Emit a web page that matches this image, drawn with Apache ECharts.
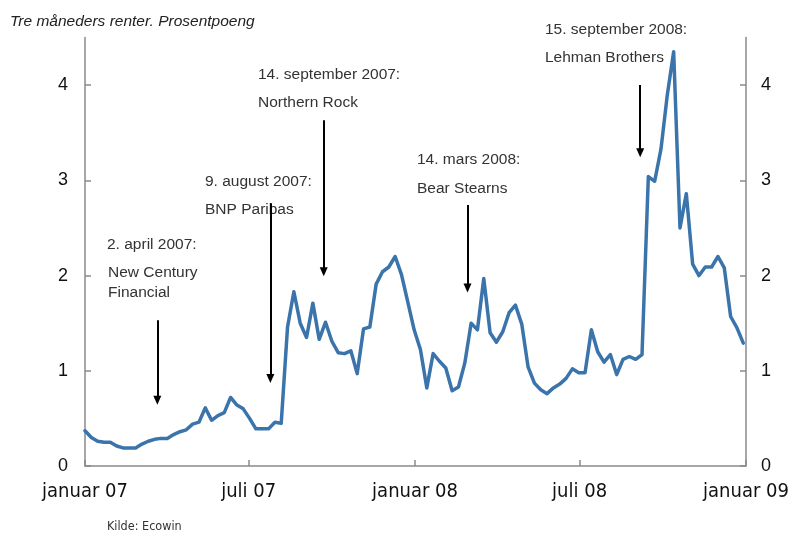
<!DOCTYPE html>
<html>
<head>
<meta charset="utf-8">
<title>Tre måneders renter</title>
<script src="https://cdn.jsdelivr.net/npm/echarts@6/dist/echarts.min.js"></script>
<style>
    html, body { margin: 0; padding: 0; background: #fff; }
    #main { width: 793px; height: 534px; }
</style>
</head>
<body>
<div id="main"></div>
<script>
// ukentlige observasjoner fra 1. januar 2007
const startYear = 2007
const weekCount = 105
const rates = [
    0.37, 0.30, 0.26, 0.25, 0.25, 0.21, 0.19, 0.19, 0.19, 0.23,
    0.26, 0.28, 0.29, 0.29, 0.33, 0.36, 0.38, 0.44, 0.46, 0.61,
    0.48, 0.53, 0.56, 0.72, 0.64, 0.60, 0.50, 0.39, 0.39, 0.39,
    0.46, 0.45, 1.46, 1.83, 1.50, 1.35, 1.71, 1.33, 1.51, 1.31,
    1.19, 1.18, 1.21, 0.97, 1.44, 1.46, 1.91, 2.04, 2.09, 2.20,
    2.01, 1.72, 1.43, 1.22, 0.82, 1.18, 1.10, 1.03, 0.79, 0.83,
    1.08, 1.50, 1.43, 1.97, 1.40, 1.30, 1.41, 1.61, 1.69, 1.49,
    1.04, 0.87, 0.80, 0.76, 0.82, 0.86, 0.92, 1.02, 0.98, 0.98,
    1.43, 1.20, 1.09, 1.17, 0.96, 1.12, 1.15, 1.12, 1.17, 3.04,
    2.99, 3.33, 3.90, 4.35, 2.50, 2.86, 2.12, 2.00, 2.09, 2.09,
    2.20, 2.08, 1.57, 1.45, 1.29
]
const weeks = []
for (let i = 0; i < weekCount; i++) {
    weeks.push(new Date(startYear, 0, 1 + 7 * i).getTime())
}

// aksemerker
const xTickDates = ['2007-01-01', '2007-07-01', '2008-01-01', '2008-07-01', '2009-01-01']
const monthNames = { 0: 'januar', 6: 'juli' }
const yTicks = [0, 1, 2, 3, 4]

// hendelser: pil (dato, fra, til)
const arrowDates = ['2007-03-22', '2007-07-25', '2007-09-22', '2008-02-28', '2008-09-06']
const arrowTop = [1.53, 2.76, 3.63, 2.74, 4.00]
const arrowBottom = [0.69, 0.92, 2.04, 1.87, 3.29]

const toTime = (s) => {
    const p = s.split('-').map(Number)
    return new Date(p[0], p[1] - 1, p[2]).getTime()
}

const narrowFont = "'Liberation Sans Narrow', 'DejaVu Sans Condensed', 'Liberation Sans', sans-serif"
const textStyle = { fontFamily: 'Liberation Sans', fontSize: 15.5, fill: '#333' }
const notes = [
    { text: '2. april 2007:', x: 107, y: 246 },
    { text: 'New Century', x: 108, y: 274 },
    { text: 'Financial', x: 108, y: 294 },
    { text: '9. august 2007:', x: 205, y: 183 },
    { text: 'BNP Paribas', x: 205, y: 211 },
    { text: '14. september 2007:', x: 258, y: 76 },
    { text: 'Northern Rock', x: 258, y: 104 },
    { text: '14. mars 2008:', x: 417, y: 161 },
    { text: 'Bear Stearns', x: 417, y: 190 },
    { text: '15. september 2008:', x: 545, y: 31 },
    { text: 'Lehman Brothers', x: 545, y: 59 }
]

const myChart = echarts.init(document.getElementById('main'))

const yAxisBase = {
    type: 'value',
    min: 0,
    max: 4.5,
    interval: 1,
    splitLine: { show: false },
    axisLine: { show: true, lineStyle: { color: '#8a8a8a', width: 1.5 } },
    axisTick: { show: true, inside: true, length: 6, customValues: yTicks, lineStyle: { color: '#8a8a8a', width: 1.5 } },
    axisLabel: { customValues: yTicks, color: '#111', fontSize: 18, fontFamily: 'Liberation Sans' }
}

const option = {
    animation: false,
    grid: { left: 85, right: 47, top: 37.5, bottom: 68 },
    xAxis: {
        type: 'value',
        min: toTime('2007-01-01'),
        max: toTime('2009-01-01'),
        splitLine: { show: false },
        axisLine: { lineStyle: { color: '#8a8a8a', width: 1.5 } },
        axisTick: {
            show: true,
            inside: true,
            length: 6,
            customValues: xTickDates.map(toTime),
            lineStyle: { color: '#8a8a8a', width: 1.5 }
        },
        axisLabel: {
            customValues: xTickDates.map(toTime),
            showMinLabel: true,
            showMaxLabel: true,
            margin: 16,
            color: '#111',
            fontSize: 20,
            fontFamily: narrowFont,
            formatter: function (val) {
                const d = new Date(val)
                return monthNames[d.getMonth()] + ' ' + String(d.getFullYear()).slice(2)
            }
        }
    },
    yAxis: [
        Object.assign({}, yAxisBase, { position: 'left', axisLabel: Object.assign({}, yAxisBase.axisLabel, { margin: 17 }) }),
        Object.assign({}, yAxisBase, { position: 'right', axisLabel: Object.assign({}, yAxisBase.axisLabel, { margin: 15 }) })
    ],
    series: [
        {
            name: 'Tre måneders renter',
            type: 'line',
            showSymbol: false,
            data: weeks.map((t, i) => [t, rates[i]]),
            lineStyle: { color: '#3a74ab', width: 3.5, join: 'round', cap: 'round' },
            markLine: {
                silent: true,
                symbol: ['none', 'triangle'],
                symbolSize: [8, 9],
                label: { show: false },
                itemStyle: { color: '#000' },
                lineStyle: { color: '#000', width: 2, type: 'solid' },
                data: arrowDates.map((d, i) => [
                    { coord: [toTime(d), arrowTop[i]] },
                    { coord: [toTime(d), arrowBottom[i]] }
                ])
            }
        }
    ],
    graphic: notes.map((n) => ({
        type: 'text',
        left: n.x,
        top: n.y - 9,
        silent: true,
        style: Object.assign({ text: n.text }, textStyle)
    })).concat([
        {
            type: 'text',
            left: 10,
            top: 14,
            silent: true,
            style: { text: 'Tre måneders renter. Prosentpoeng', fontFamily: 'Liberation Sans', fontStyle: 'italic', fontSize: 15.5, fill: '#222' }
        },
        {
            type: 'text',
            left: 107,
            top: 520,
            silent: true,
            style: { text: 'Kilde: Ecowin', fontFamily: narrowFont, fontSize: 12.5, fill: '#333' }
        }
    ])
}

myChart.setOption(option)
</script>
</body>
</html>
